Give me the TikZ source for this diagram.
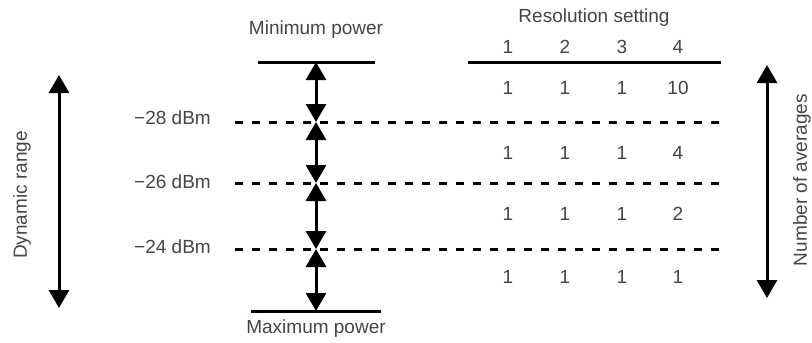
\documentclass[tikz,border=0pt]{standalone}
\usepackage{fontspec}
\setmainfont{Liberation Sans}
\usepackage{xcolor}
\usetikzlibrary{arrows.meta}
\definecolor{textGray}{rgb}{0.27,0.27,0.27}

\begin{document}
\begin{tikzpicture}[x=1pt, y=-1pt,
    lbl/.style={text=textGray, font=\fontsize{19}{22}\selectfont, inner sep=0pt},
    bigArrow/.style={line width=3pt, {Triangle[length=18pt,width=20pt]}-{Triangle[length=18pt,width=20pt]}},
    levelLine/.style={line width=3pt, dash pattern=on 8pt off 9pt},
    bar/.style={line width=3pt}]
	\useasboundingbox (0,0) rectangle (812,343);
	% left: dynamic range
	\coordinate (dTop) at (59,75);
	\coordinate (dBot) at (59,308);
	\draw[bigArrow] (dTop) -- (dBot);
	\node[lbl, rotate=90] (dyn) at (22,195) {Dynamic range};
	% power bars
	\node[lbl] (minP) at (316,30) {Minimum power};
	\node[lbl] (maxP) at (316,329) {Maximum power};
	\coordinate (minL) at (258,62);
	\coordinate (minR) at (375,62);
	\coordinate (maxL) at (251,311);
	\coordinate (maxR) at (381,311);
	\draw[bar] (minL) -- (minR);
	\draw[bar] (maxL) -- (maxR);
	% level lines
	\node[lbl, anchor=east] (l28) at (211,118) {\char"2212 28 dBm};
	\node[lbl, anchor=east] (l26) at (211,182) {\char"2212 26 dBm};
	\node[lbl, anchor=east] (l24) at (211,247) {\char"2212 24 dBm};
	\coordinate (s1) at (235,122); \coordinate (e1) at (719,122);
	\coordinate (s2) at (235,183); \coordinate (e2) at (719,183);
	\coordinate (s3) at (235,249); \coordinate (e3) at (719,249);
	\draw[levelLine] (s1) -- (e1);
	\draw[levelLine] (s2) -- (e2);
	\draw[levelLine] (s3) -- (e3);
	% arrows between levels
	\coordinate (p0) at (316,62);
	\coordinate (p1) at (316,122);
	\coordinate (p2) at (316,183);
	\coordinate (p3) at (316,249);
	\coordinate (p4) at (316,311);
	\foreach \a/\b in {p0/p1,p1/p2,p2/p3,p3/p4}
		\draw[bigArrow] (\a) -- (\b);
	% table
	\node[lbl] (resSet) at (594,18) {Resolution setting};
	\foreach \n/\x in {1/508,2/565,3/622,4/678}
		\node[lbl] (col\n) at (\x,47) {\n};
	\coordinate (tL) at (468,62);
	\coordinate (tR) at (721,62);
	\draw[bar] (tL) -- (tR);
	\foreach \r/\y/\v in {1/88/10,2/153/4,3/214/2,4/277/1} {
		\node[lbl] (r\r c1) at (508,\y) {1};
		\node[lbl] (r\r c2) at (565,\y) {1};
		\node[lbl] (r\r c3) at (622,\y) {1};
		\node[lbl] (r\r c4) at (678,\y) {\v};
	}
	% right: number of averages
	\coordinate (nTop) at (767,65);
	\coordinate (nBot) at (767,298);
	\draw[bigArrow] (nTop) -- (nBot);
	\node[lbl, rotate=90] (avg) at (802,180) {Number of averages};
\end{tikzpicture}
\end{document}
